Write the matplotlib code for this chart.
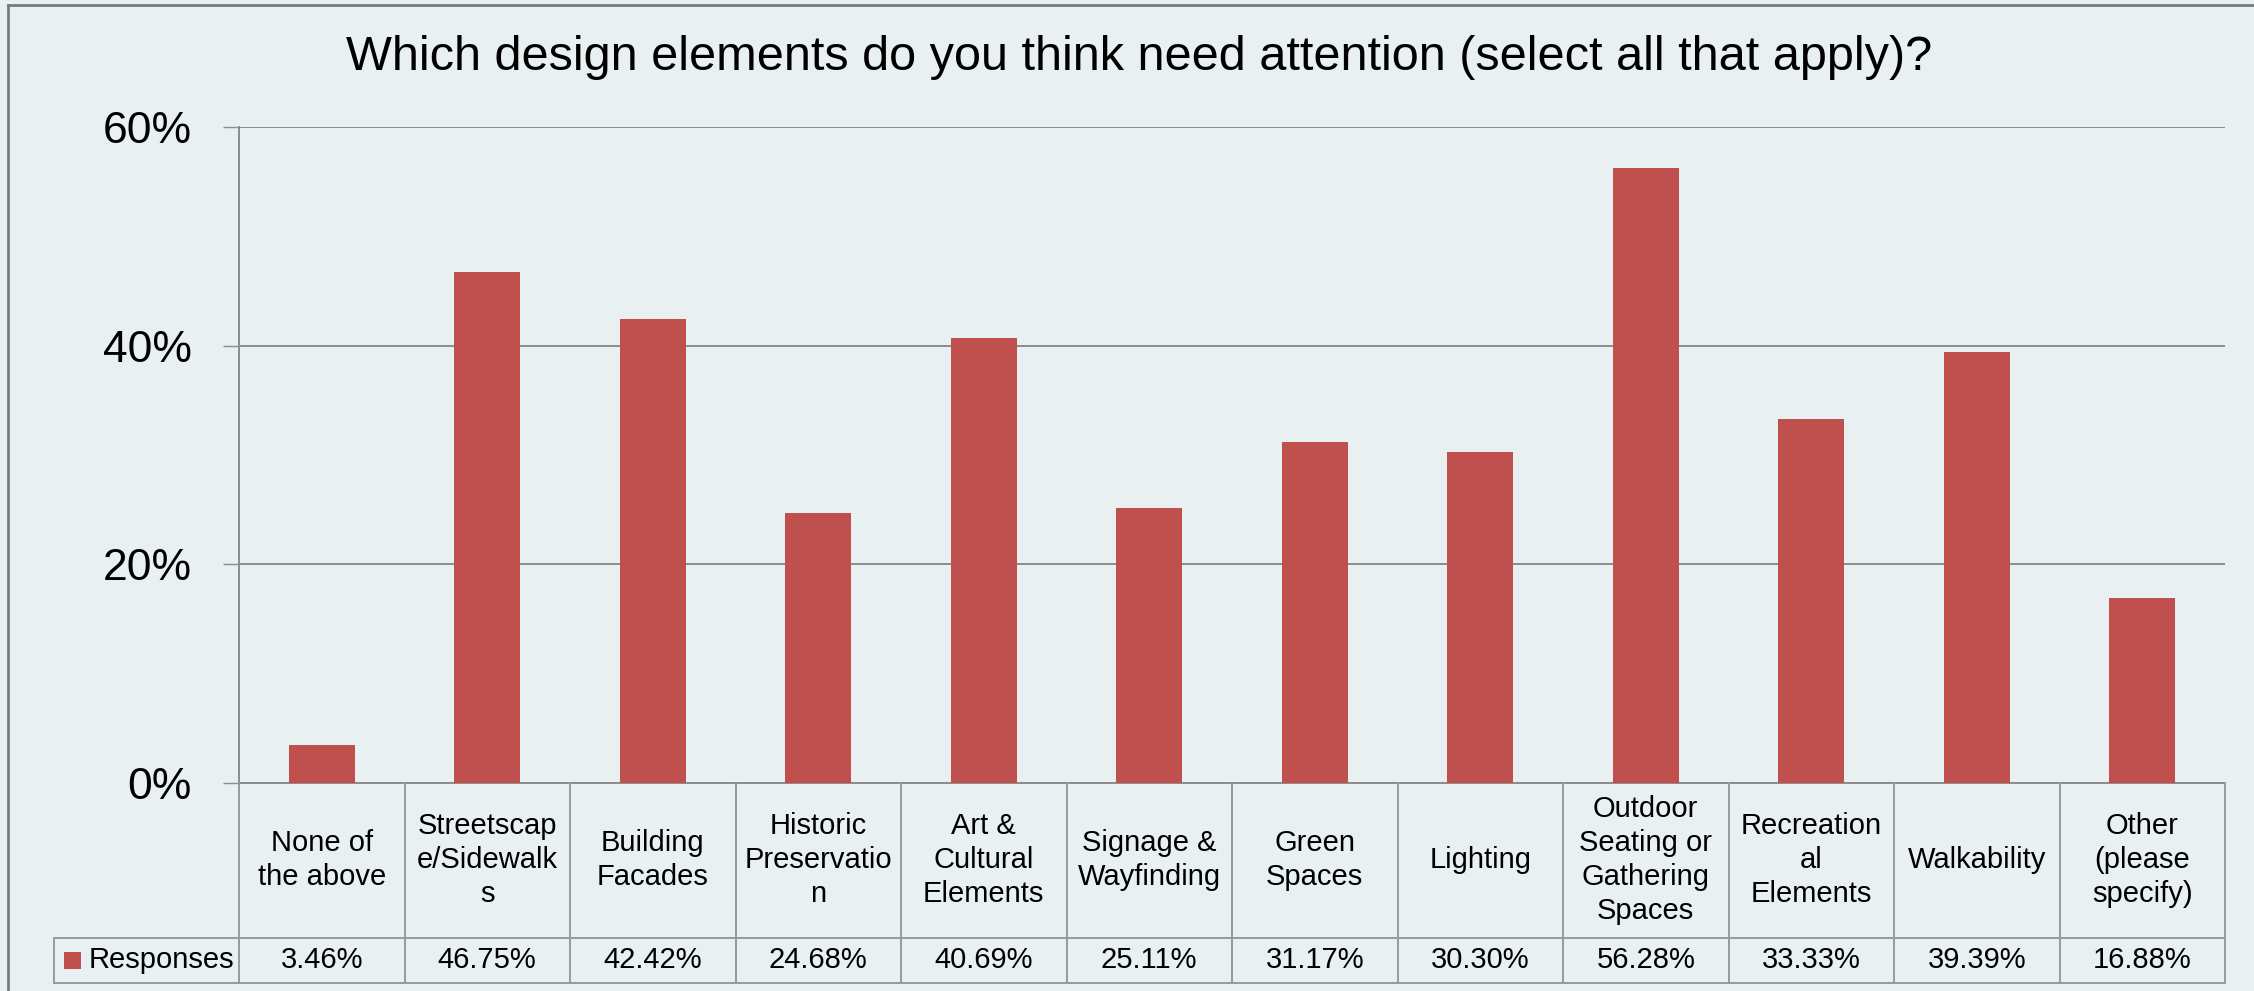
import matplotlib
matplotlib.use("Agg")
import matplotlib.pyplot as plt
from matplotlib.transforms import blended_transform_factory
from matplotlib.patches import Rectangle
from matplotlib.lines import Line2D

# ---------------- data ----------------
categories = ["None of\nthe above", "Streetscap\ne/Sidewalk\ns", "Building\nFacades",
              "Historic\nPreservatio\nn", "Art &\nCultural\nElements",
              "Signage &\nWayfinding", "Green\nSpaces", "Lighting",
              "Outdoor\nSeating or\nGathering\nSpaces", "Recreation\nal\nElements",
              "Walkability", "Other\n(please\nspecify)"]
responses = [3.46, 46.75, 42.42, 24.68, 40.69, 25.11, 31.17, 30.30, 56.28, 33.33, 39.39, 16.88]
y_ticks = [0, 20, 40, 60]
y_tick_labels = ["0%", "20%", "40%", "60%"]
series_name = "Responses"
title = "Which design elements do you think need attention (select all that apply)?"

# ---------------- style ----------------
W, H = 2254, 991
BG = "#E8F0F2"
BAR = "#C0504D"
GRID = "#8C8C8C"
BORDER = "#6F7F80"

plt.rcParams['font.family'] = ['Liberation Sans', 'DejaVu Sans']
fig = plt.figure(figsize=(W / 100, H / 100), dpi=100, facecolor=BG)


def fx(px):
    return px / W


def fy(py):
    return 1 - py / H


L, R, T, B = 239, 2225, 127, 783
ax = fig.add_axes([fx(L), fy(B), (R - L) / W, (B - T) / H])
ax.set_facecolor(BG)
n = len(categories)
xs = list(range(n))
ax.bar(xs, responses, width=0.4, color=BAR, zorder=3)
ax.set_xlim(-0.5, n - 0.5)
ax.set_ylim(0, 60)
ax.set_yticks(y_ticks)
ax.set_yticklabels(y_tick_labels, fontsize=32)
ax.set_xticks([])
ax.yaxis.grid(True, color=GRID, lw=1.4, zorder=1)
ax.set_axisbelow(True)
ax.tick_params(axis='y', length=11.5, width=1.0, color=GRID, pad=22.5)
for s in ["top", "right"]:
    ax.spines[s].set_visible(False)
for s in ["left", "bottom"]:
    ax.spines[s].set_color(GRID)
    ax.spines[s].set_linewidth(1.4)

# ---------------- data table ----------------
tr_data = blended_transform_factory(ax.transData, fig.transFigure)
tr_axes = blended_transform_factory(ax.transAxes, fig.transFigure)
ROW1_TOP, ROW_MID, ROW_BOT = 783, 938, 983
LEG_LEFT = 54
lkw = dict(color="#999999", lw=1.4, clip_on=False)

for i in range(n + 1):
    xb = i - 0.5
    fig.add_artist(Line2D([xb, xb], [fy(ROW1_TOP), fy(ROW_BOT)], transform=tr_data, **lkw))
xl = (LEG_LEFT - L) / (R - L)
for yy in (ROW_MID, ROW_BOT):
    fig.add_artist(Line2D([xl, 1], [fy(yy), fy(yy)], transform=tr_axes, **lkw))
fig.add_artist(Line2D([xl, xl], [fy(ROW_MID), fy(ROW_BOT)], transform=tr_axes, **lkw))

for i, (c, v) in enumerate(zip(categories, responses)):
    fig.text(i, fy(860), c, transform=tr_data, ha="center", va="center",
             fontsize=21, linespacing=1.27)
    fig.text(i, fy(960), f"{v:.2f}%", transform=tr_data, ha="center", va="center",
             fontsize=21)

fig.add_artist(Rectangle((fx(64), fy(969)), 17 / W, 17 / H, transform=fig.transFigure,
                         facecolor=BAR, edgecolor="none"))
fig.text(fx(89), fy(960), series_name, ha="left", va="center", fontsize=21)

# ---------------- title & border ----------------
fig.text(fx(1139), fy(70), title, ha="center", va="baseline", fontsize=35)
fig.add_artist(Line2D([fx(8), fx(8)], [fy(5), 0], transform=fig.transFigure,
                      color=BORDER, lw=2))
fig.add_artist(Line2D([fx(8), 1], [fy(5), fy(5)], transform=fig.transFigure,
                      color=BORDER, lw=2))

fig.savefig("out.png", dpi=100, facecolor=BG)
